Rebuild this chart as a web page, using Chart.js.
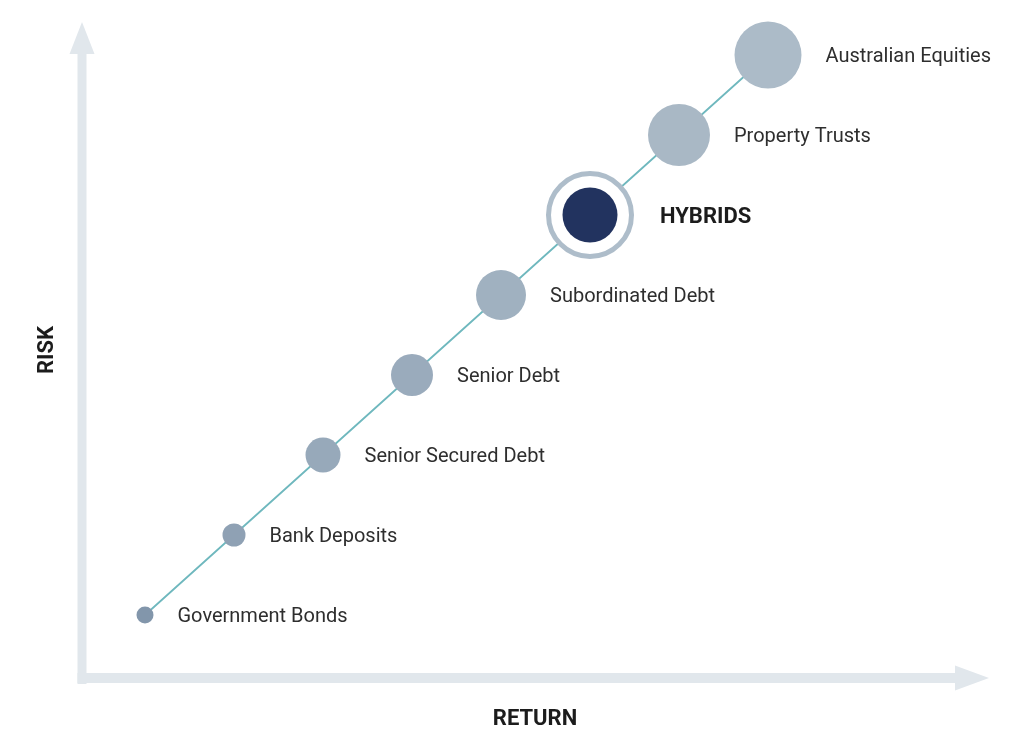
<!DOCTYPE html>
<html>
<head>
<meta charset="utf-8">
<script src="https://cdn.jsdelivr.net/npm/chart.js@4/dist/chart.umd.min.js"></script>
<style>
  html, body { margin: 0; padding: 0; background: #ffffff; }
  #wrap { width: 1010px; height: 748px; }
</style>
</head>
<body>
<div id="wrap"><canvas id="c" width="1010" height="748"></canvas></div>
<script>
// ---- data ----
const categories = ["Government Bonds", "Bank Deposits", "Senior Secured Debt", "Senior Debt",
  "Subordinated Debt", "HYBRIDS", "Property Trusts", "Australian Equities"];
const returnValues = [1, 2, 3, 4, 5, 6, 7, 8];
const riskValues = [1, 2, 3, 4, 5, 6, 7, 8];
const highlightIndex = 5;
const xAxisTitle = "RETURN";
const yAxisTitle = "RISK";

// ---- styles ----
const pointRadii = [8.5, 11.5, 17.5, 21, 25, 27.5, 31, 33.5];
const pointColors = ["#8296ab", "#8fa1b4", "#97a9ba", "#9aabbc", "#a0b1c0", "#22335f", "#a9b8c5", "#acbbc8"];
const axisColor = "#e1e7ec";

const points = categories.map((c, i) => ({ x: returnValues[i], y: riskValues[i] }));

const decorPlugin = {
  id: 'decor',
  beforeDatasetsDraw(chart) {
    const ctx = chart.ctx;
    ctx.save();
    ctx.fillStyle = axisColor;
    // vertical axis arrow
    ctx.fillRect(77.5, 50, 9, 634);
    ctx.beginPath();
    ctx.moveTo(82, 22);
    ctx.lineTo(94.5, 54);
    ctx.lineTo(69.5, 54);
    ctx.closePath();
    ctx.fill();
    // horizontal axis arrow
    ctx.fillRect(77.5, 673, 880, 10);
    ctx.beginPath();
    ctx.moveTo(989, 678);
    ctx.lineTo(955, 665.5);
    ctx.lineTo(955, 690.5);
    ctx.closePath();
    ctx.fill();
    ctx.restore();
  },
  afterDatasetsDraw(chart) {
    const ctx = chart.ctx;
    const meta = chart.getDatasetMeta(2);
    ctx.save();
    ctx.textBaseline = 'middle';
    ctx.textAlign = 'left';
    meta.data.forEach((el, i) => {
      const hl = i === highlightIndex;
      ctx.font = hl ? 'bold 22px Roboto' : '20px Roboto';
      ctx.fillStyle = hl ? '#1c1c1c' : '#2e2e2e';
      const off = hl ? 43 + 27 : pointRadii[i] + 24;
      ctx.fillText(categories[i], el.x + off, el.y + 2);
    });
    // axis titles
    ctx.font = 'bold 22px Roboto';
    ctx.fillStyle = '#1c1c1c';
    ctx.textAlign = 'center';
    ctx.fillText(xAxisTitle, 535, 719);
    ctx.translate(47, 350);
    ctx.rotate(-Math.PI / 2);
    ctx.fillText(yAxisTitle, 0, 0);
    ctx.restore();
  }
};

new Chart(document.getElementById('c'), {
  type: 'scatter',
  data: {
    datasets: [
      {
        label: 'line',
        data: points,
        showLine: true,
        borderColor: '#6fb8be',
        borderWidth: 1.8,
        pointRadius: 0,
        pointHoverRadius: 0,
        order: 3
      },
      {
        label: 'ring',
        data: [points[highlightIndex]],
        pointRadius: 41.5,
        pointHoverRadius: 41.5,
        backgroundColor: '#ffffff',
        borderColor: '#aebdca',
        borderWidth: 5,
        pointHoverBorderWidth: 5,
        order: 2
      },
      {
        label: 'assets',
        data: points,
        pointRadius: pointRadii,
        pointHoverRadius: pointRadii,
        backgroundColor: pointColors,
        borderColor: pointColors,
        borderWidth: 0,
        order: 1
      }
    ]
  },
  options: {
    responsive: false,
    animation: false,
    events: [],
    layout: { padding: 0, autoPadding: false },
    plugins: { legend: { display: false }, tooltip: { enabled: false } },
    scales: {
      x: { type: 'linear', display: false, min: 1 - 145 / 89, max: 1 - 145 / 89 + 1010 / 89 },
      y: { type: 'linear', display: false, min: 1 - 133 / 80, max: 8 + 55 / 80 }
    }
  },
  plugins: [decorPlugin]
});
</script>
</body>
</html>
